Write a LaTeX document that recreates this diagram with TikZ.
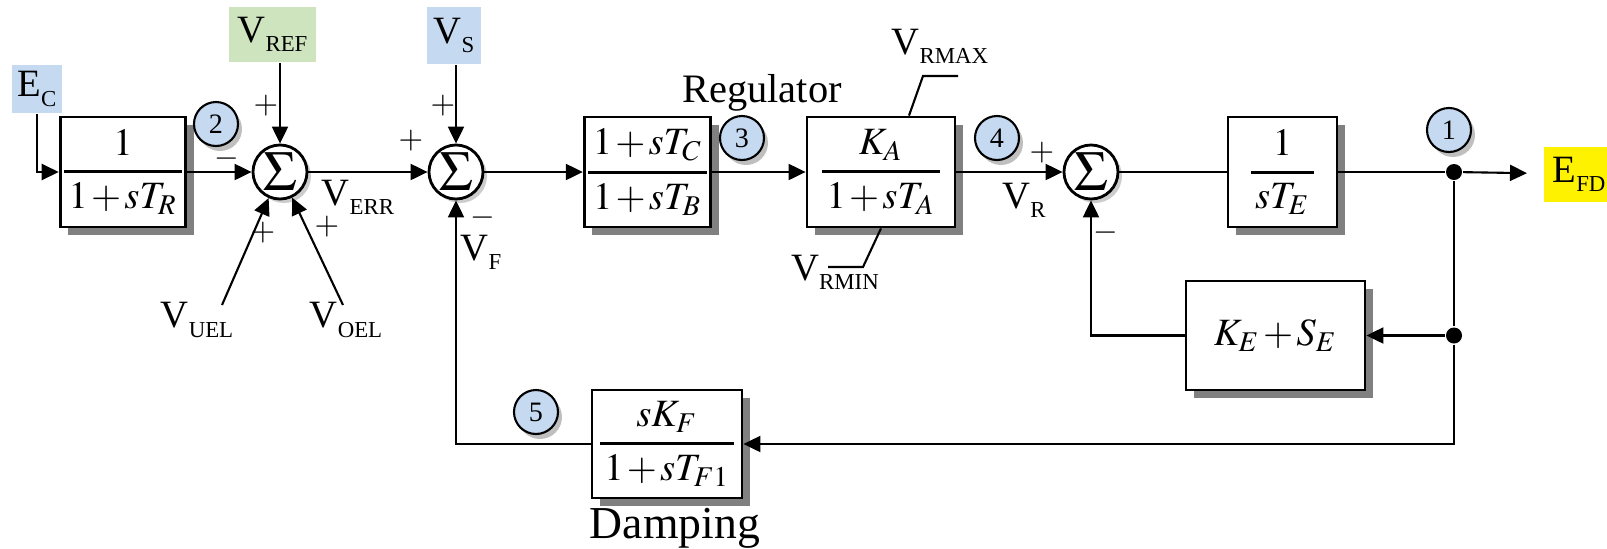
\documentclass[tikz,border=0pt]{standalone}
\usepackage{amsmath}
\usepackage{mathptmx}
\usepackage{fontspec}
\setmainfont{Liberation Serif}
\usetikzlibrary{arrows.meta,positioning,calc,shadows}
\definecolor{inblue}{RGB}{197,217,241}
\definecolor{refgreen}{RGB}{206,228,190}
\definecolor{tagblue}{RGB}{197,217,241}
\newcommand{\sbs}[1]{\raisebox{-2.6pt}{\fontsize{6.5}{7}\selectfont #1}}
\newcommand{\tf}[2]{\genfrac{}{}{0.9pt}{0}{\,#1\,}{\,#2\,}}
\medmuskip=1.5mu

\begin{document}
\begin{tikzpicture}[
  font=\fontsize{11}{13}\selectfont,
  line width=0.6pt,
  blk/.style={draw,line width=0.8pt,fill=white,minimum height=1.1cm,inner sep=0pt,
    drop shadow={shadow xshift=0.8mm,shadow yshift=-0.8mm,fill=gray,opacity=1}},
  sumn/.style={draw,circle,line width=0.8pt,fill=white,minimum size=0.54cm,inner sep=0pt,
    drop shadow={shadow xshift=0.4mm,shadow yshift=-0.4mm,opacity=0.4},font=\fontsize{16}{16}\selectfont},
  tag/.style={draw,circle,line width=0.6pt,fill=tagblue,minimum size=0.44cm,inner sep=0pt,
    drop shadow={shadow xshift=0.4mm,shadow yshift=-0.5mm,opacity=0.5},font=\fontsize{8}{8}\selectfont},
  src/.style={inner sep=0pt,minimum height=0.55cm},
  pm/.style={inner sep=0pt,text height=0.5em,text depth=0pt,font=\fontsize{9}{9}\selectfont},
  dot/.style={circle,fill,inner sep=0pt,minimum size=0.16cm},
  arr/.style={-{Triangle[length=1.7mm,width=1.6mm]},line width=0.6pt}
]
  \useasboundingbox (0,0) rectangle (16.07,-5.48);
  % inputs
  \node[src,fill=inblue,minimum width=0.50cm,minimum height=0.48cm] (ec) at (0.37,-0.89) {E\sbs{C}};
  \node[src,fill=refgreen,minimum width=0.87cm] (vref) at (2.725,-0.345) {V\sbs{REF}};
  \node[src,fill=inblue,minimum width=0.54cm,minimum height=0.57cm] (vs) at (4.54,-0.355) {V\sbs{S}};
  % forward path
  \node[blk,minimum width=1.10cm] (tr) at (1.23,-1.72) {$\tf{1}{1+sT_R}$};
  \node[sumn] (sum1) at (2.80,-1.72) {$\Sigma$};
  \node[sumn] (sum2) at (4.56,-1.72) {$\Sigma$};
  \node[blk,minimum width=1.09cm] (ll) at (6.475,-1.72) {$\tf{1+sT_C}{1+sT_B}$};
  \node[blk,minimum width=1.48cm] (ka) at (8.81,-1.72) {$\tf{K_A}{1+sT_A}$};
  \node[sumn] (sum3) at (10.91,-1.72) {$\Sigma$};
  \node[blk,minimum width=1.09cm] (te) at (12.825,-1.72) {$\tf{1}{sT_E}$};
  \node[dot] (d1) at (14.54,-1.72) {};
  \node[src,fill=yellow,minimum width=0.70cm,anchor=west] (efd) at (15.43,-1.74) {E\sbs{FD}};
  % feedback
  \node[blk,minimum width=1.79cm,minimum height=1.09cm] (kese) at (12.755,-3.355) {$K_E+S_E$};
  \node[dot] (d2) at (d1 |- kese) {};
  \node[blk,minimum width=1.50cm,minimum height=1.08cm] (damp) at (6.67,-4.44) {$\tf{sK_F}{1+sT_{F1}}$};
  \node[font=\fontsize{13}{15}\selectfont] (damptxt) at (6.75,-5.28) {Damping};
  \node[font=\fontsize{11.5}{13}\selectfont] (regtxt) at (7.62,-0.93) {Regulator};
  % numbered points
  \node[tag] (t1) at (14.49,-1.30) {1};
  \node[tag] (t2) at (2.16,-1.24) {2};
  \node[tag] (t3) at (7.42,-1.38) {3};
  \node[tag] (t4) at (9.97,-1.38) {4};
  \node[tag] (t5) at (5.36,-4.12) {5};
  % signal labels
  \node (verr) at (3.58,-1.97) {V\sbs{ERR}};
  \node (vuel) at (1.97,-3.20) {V\sbs{UEL}};
  \node (voel) at (3.46,-3.20) {V\sbs{OEL}};
  \node (vf) at (4.81,-2.52) {V\sbs{F}};
  \node (vr) at (10.24,-2.00) {V\sbs{R}};
  \node (vrmax) at (9.40,-0.46) {V\sbs{RMAX}};
  \node (vrmin) at (8.35,-2.72) {V\sbs{RMIN}};
  % signs
  \node[pm] (p1) at (2.66,-1.05) {$+$};
  \node[pm] (m1) at (2.27,-1.58) {$-$};
  \node[pm] (p2) at (2.63,-2.32) {$+$};
  \node[pm] (p3) at (3.27,-2.26) {$+$};
  \node[pm] (p4) at (4.11,-1.40) {$+$};
  \node[pm] (p5) at (4.43,-1.05) {$+$};
  \node[pm] (m2) at (4.83,-2.17) {$-$};
  \node[pm] (p6) at (10.42,-1.52) {$+$};
  \node[pm] (m3) at (11.06,-2.32) {$-$};
  \coordinate (uelend) at (2.22,-3.05);
  \coordinate (oelend) at (3.43,-3.05);
  \coordinate (rmaxa) at (9.58,-0.76);
  \coordinate (rmaxb) at (9.23,-0.76);
  \coordinate (rmina) at (8.28,-2.67);
  \coordinate (rminb) at (8.63,-2.67);
  % connectors
  \draw[arr] (ec.south) |- (tr.west);
  \draw[arr] (tr) -- (sum1);
  \draw[arr] (sum1 |- vref.south) -- (sum1);
  \draw[arr] (uelend) -- (sum1);
  \draw[arr] (oelend) -- (sum1);
  \draw[arr] (sum1) -- (sum2);
  \draw[arr] (sum2 |- vs.south) -- (sum2);
  \draw[arr] (sum2) -- (ll);
  \draw[arr] (ll) -- (ka);
  \draw[arr] (ka) -- (sum3);
  \draw (sum3) -- (te);
  \draw (te) -- (d1);
  \draw[arr,shorten >=0.16cm] (d1) -- (efd);
  \draw (d1) -- (d2);
  \draw[arr] (d2) -- (kese);
  \draw[arr] (kese.west) -| (sum3.south);
  \draw[arr] (d2) |- (damp.east);
  \draw[arr] (damp.west) -| (sum2.south);
  \draw (rmaxa) -- (rmaxb) -- ([xshift=0.28cm]ka.north);
  \draw (rmina) -- (rminb) -- (ka.south);
\end{tikzpicture}
\end{document}
